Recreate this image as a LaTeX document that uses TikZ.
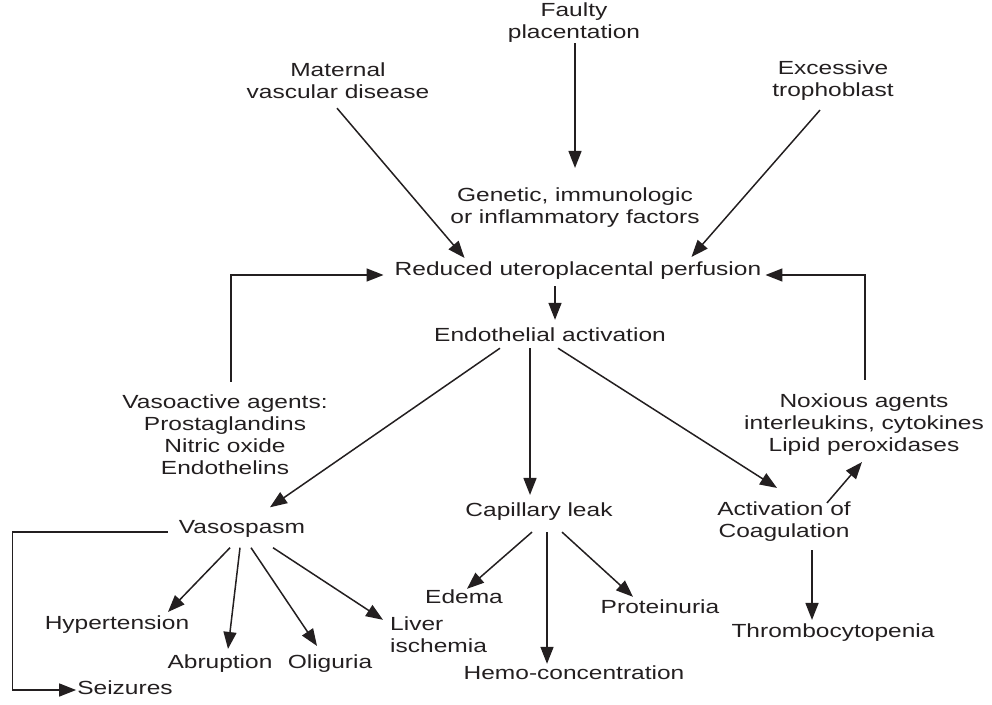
\documentclass[tikz,border=0pt]{standalone}
\usepackage{fontspec}
\setmainfont{Liberation Sans}[FakeStretch=1.29]
\usepackage{tikz}
\usetikzlibrary{arrows.meta}
\definecolor{ink}{HTML}{231F20}

\begin{document}
\begin{tikzpicture}[x=1pt,y=-1pt,
    lbl/.style={inner sep=0pt,align=center,text=ink,font=\fontsize{19}{22}\selectfont},
    flow/.style={-{Triangle[length=17pt,width=13pt]},line width=1.5pt,draw=ink}]
    \useasboundingbox (0,0) rectangle (992,704);

    % Causes
    \node[lbl] (fault) at (574,23) {Faulty\\placentation};
    \node[lbl] (maternal) at (338,81) {Maternal\\vascular disease};
    \node[lbl] (excess) at (833,81) {Excessive\\trophoblast};
    \node[lbl] (genetic) at (575,208) {Genetic, immunologic\\or inflammatory factors};
    \node[lbl] (reduced) at (578,271) {Reduced uteroplacental perfusion};
    \node[lbl] (endo) at (550,335) {Endothelial activation};

    % Mediators
    \node[lbl] (vasoact) at (225,435) {Vasoactive agents:\\Prostaglandins\\Nitric oxide\\Endothelins};
    \node[lbl] (noxious) at (864,425) {Noxious agents\\interleukins, cytokines\\Lipid peroxidases};

    % Effects
    \node[lbl] (vasosp) at (242,529) {Vasospasm};
    \node[lbl] (capil) at (539,512) {Capillary leak};
    \node[lbl] (coag) at (784,522) {Activation of\\Coagulation};

    % Outcomes
    \node[lbl] (hyper) at (117,625) {Hypertension};
    \node[lbl] (abrup) at (220,664) {Abruption};
    \node[lbl] (olig) at (330,664) {Oliguria};
    \node[lbl,align=left,anchor=west] (liver) at (390,635) {Liver\\ischemia};
    \node[lbl] (seiz) at (125,688) {Seizures};
    \node[lbl] (edema) at (464,597) {Edema};
    \node[lbl] (protein) at (660,607) {Proteinuria};
    \node[lbl] (hemo) at (574,673) {Hemo-concentration};
    \node[lbl] (thrombo) at (833,633) {Thrombocytopenia};

    % Draw arrows
    \draw[flow] ([xshift=1pt]fault.south) -- ([yshift=20pt]genetic.north);
    \draw[flow] ([xshift=-1pt,yshift=-9pt]maternal.south) -- ([xshift=70pt,yshift=4pt]reduced.north west);
    \draw[flow] ([xshift=-13pt,yshift=-9pt]excess.south) -- ([xshift=-70pt,yshift=5pt]reduced.north east);
    \draw[flow] ([xshift=-23pt,yshift=-6pt]reduced.south) -- ([xshift=5pt,yshift=8pt]endo.north);

    % Feedback loops
    \draw[flow] ([xshift=6pt,yshift=13pt]vasoact.north) |- ([xshift=-11pt,yshift=-4pt]reduced.west);
    \draw[flow] ([xshift=1pt,yshift=14pt]noxious.north) |- ([xshift=4pt,yshift=-4pt]reduced.east);

    \draw[flow] ([xshift=-50pt,yshift=-6pt]endo.south) -- ([xshift=28pt,yshift=13pt]vasosp.north);
    \draw[flow] ([xshift=-20pt,yshift=-6pt]endo.south) -- ([xshift=-9pt,yshift=8pt]capil.north);
    \draw[flow] ([xshift=8pt,yshift=-6pt]endo.south) -- ([xshift=-7pt,yshift=14pt]coag.north);
    \draw[flow] ([xshift=-24pt,yshift=-1pt]coag.north east) -- ([xshift=-2pt,yshift=-6pt]noxious.south);
    \draw[flow] ([xshift=28pt,yshift=-8pt]coag.south) -- ([xshift=-21pt,yshift=4pt]thrombo.north);

    % Vasospasm
    \draw[flow] ([xshift=-12pt,yshift=-10pt]vasosp.south) -- ([xshift=51pt,yshift=4pt]hyper.north);
    \draw[flow] ([xshift=-2pt,yshift=-10pt]vasosp.south) -- ([xshift=8pt,yshift=6pt]abrup.north);
    \draw[flow] ([xshift=9pt,yshift=-10pt]vasosp.south) -- ([xshift=-13pt,yshift=9pt]olig.north);
    \draw[flow] ([xshift=31pt,yshift=-10pt]vasosp.south) -- ([xshift=-7pt,yshift=-3pt]liver.north west);
    \draw[flow] ([xshift=-11pt,yshift=-3pt]vasosp.west) -- ++(-155,0) |- ([xshift=-1pt,yshift=-2pt]seiz.west);

    % Capillary leak
    \draw[flow] ([xshift=-7pt,yshift=-11pt]capil.south) -- ([xshift=3pt,yshift=1pt]edema.north);
    \draw[flow] ([xshift=8pt,yshift=-11pt]capil.south) -- ([xshift=-27pt,yshift=2pt]hemo.north);
    \draw[flow] ([xshift=23pt,yshift=-11pt]capil.south) -- ([xshift=-27pt,yshift=3pt]protein.north);
\end{tikzpicture}
\end{document}
